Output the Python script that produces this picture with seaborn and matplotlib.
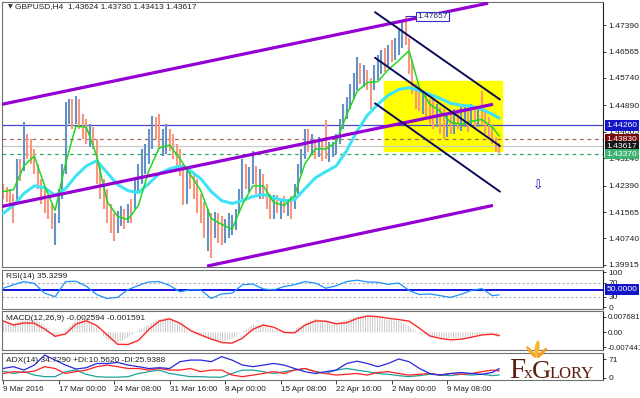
import numpy as np
import matplotlib
matplotlib.use("Agg")
import matplotlib.pyplot as plt
import matplotlib.transforms as mtransforms
from matplotlib.patches import Ellipse
import seaborn as sns

# GBPUSD H4 chart (one bar here = two H4 bars)
highs = [1.4245, 1.4235, 1.4229, 1.4214, 1.4322, 1.4322, 1.4436, 1.4399, 1.4383, 1.4353,
         1.4307, 1.4260, 1.4229, 1.4198, 1.4183, 1.4152, 1.4229, 1.4307, 1.4498, 1.4507,
         1.4507, 1.4517, 1.4507, 1.4461, 1.4445, 1.4430, 1.4421, 1.4383, 1.4307, 1.4260,
         1.4229, 1.4183, 1.4152, 1.4161, 1.4174, 1.4167, 1.4183, 1.4198, 1.4260, 1.4307,
         1.4353, 1.4368, 1.4414, 1.4455, 1.4452, 1.4461, 1.4414, 1.4430, 1.4414, 1.4399,
         1.4368, 1.4353, 1.4307, 1.4291, 1.4300, 1.4276, 1.4260, 1.4214, 1.4189, 1.4167,
         1.4152, 1.4158, 1.4152, 1.4143, 1.4136, 1.4152, 1.4146, 1.4167, 1.4229, 1.4322,
         1.4307, 1.4297, 1.4347, 1.4300, 1.4291, 1.4276, 1.4245, 1.4214, 1.4208, 1.4208,
         1.4198, 1.4205, 1.4198, 1.4205, 1.4245, 1.4307, 1.4353, 1.4414, 1.4414, 1.4399,
         1.4383, 1.4390, 1.4383, 1.4442, 1.4374, 1.4374, 1.4399, 1.4445, 1.4492, 1.4514,
         1.4554, 1.4591, 1.4640, 1.4622, 1.4615, 1.4600, 1.4575, 1.4615, 1.4646, 1.4662,
         1.4668, 1.4677, 1.4693, 1.4699, 1.4724, 1.4748, 1.47657, 1.4699, 1.4631, 1.4554,
         1.4544, 1.4538, 1.4523, 1.4507, 1.4514, 1.4492, 1.4483, 1.4476, 1.4461, 1.4470,
         1.4476, 1.4476, 1.4483, 1.4486, 1.4476, 1.4492, 1.4483, 1.4476, 1.4532, 1.4470,
         1.4452, 1.4430, 1.4390, 1.43730]
lows = [1.4198, 1.4189, 1.4183, 1.4121, 1.4183, 1.4254, 1.4285, 1.4322, 1.4307, 1.4276,
        1.4229, 1.4183, 1.4152, 1.4136, 1.4105, 1.4053, 1.4121, 1.4198, 1.4276, 1.4430,
        1.4414, 1.4430, 1.4414, 1.4383, 1.4368, 1.4359, 1.4353, 1.4245, 1.4198, 1.4167,
        1.4121, 1.4090, 1.4066, 1.4090, 1.4112, 1.4105, 1.4121, 1.4121, 1.4167, 1.4214,
        1.4245, 1.4276, 1.4307, 1.4353, 1.4383, 1.4353, 1.4331, 1.4337, 1.4347, 1.4322,
        1.4291, 1.4269, 1.4177, 1.4183, 1.4229, 1.4198, 1.4152, 1.4121, 1.4075, 1.4035,
        1.4013, 1.4075, 1.4059, 1.4053, 1.4059, 1.4075, 1.4084, 1.4099, 1.4152, 1.4198,
        1.4229, 1.4220, 1.4245, 1.4214, 1.4198, 1.4198, 1.4167, 1.4136, 1.4136, 1.4152,
        1.4136, 1.4152, 1.4143, 1.4136, 1.4167, 1.4214, 1.4276, 1.4322, 1.4344, 1.4337,
        1.4322, 1.4328, 1.4316, 1.4322, 1.4313, 1.4328, 1.4337, 1.4368, 1.4414, 1.4445,
        1.4476, 1.4507, 1.4538, 1.4554, 1.4547, 1.4538, 1.4476, 1.4538, 1.4569, 1.4585,
        1.4594, 1.4609, 1.4625, 1.4631, 1.4646, 1.4668, 1.4677, 1.4585, 1.4523, 1.4476,
        1.4470, 1.4461, 1.4452, 1.4430, 1.4414, 1.4421, 1.4399, 1.4383, 1.4390, 1.4399,
        1.4399, 1.4414, 1.4408, 1.4421, 1.4405, 1.4424, 1.4414, 1.4421, 1.4430, 1.4399,
        1.4383, 1.4368, 1.4344, 1.43413]
closes = [1.4214, 1.4205, 1.4198, 1.4183, 1.4307, 1.4285, 1.4399, 1.4347, 1.4328, 1.4297,
          1.4245, 1.4198, 1.4174, 1.4161, 1.4121, 1.4121, 1.4214, 1.4291, 1.4476, 1.4483,
          1.4445, 1.4492, 1.4430, 1.4414, 1.4383, 1.4414, 1.4368, 1.4260, 1.4229, 1.4198,
          1.4136, 1.4121, 1.4090, 1.4136, 1.4152, 1.4136, 1.4161, 1.4130, 1.4245, 1.4276,
          1.4322, 1.4353, 1.4383, 1.4430, 1.4399, 1.4368, 1.4383, 1.4399, 1.4368, 1.4353,
          1.4307, 1.4291, 1.4198, 1.4276, 1.4260, 1.4214, 1.4167, 1.4143, 1.4105, 1.4121,
          1.4105, 1.4130, 1.4090, 1.4075, 1.4105, 1.4121, 1.4136, 1.4152, 1.4214, 1.4297,
          1.4245, 1.4276, 1.4291, 1.4229, 1.4260, 1.4214, 1.4183, 1.4161, 1.4183, 1.4167,
          1.4189, 1.4161, 1.4183, 1.4152, 1.4229, 1.4291, 1.4337, 1.4399, 1.4368, 1.4383,
          1.4337, 1.4377, 1.4353, 1.4337, 1.4353, 1.4368, 1.4383, 1.4430, 1.4476, 1.4492,
          1.4538, 1.4569, 1.4600, 1.4569, 1.4600, 1.4554, 1.4538, 1.4600, 1.4615, 1.4646,
          1.4615, 1.4662, 1.4646, 1.4677, 1.4693, 1.4724, 1.4693, 1.4600, 1.4538, 1.4523,
          1.4492, 1.4507, 1.4470, 1.4461, 1.4445, 1.4476, 1.4421, 1.4414, 1.4445, 1.4414,
          1.4461, 1.4430, 1.4452, 1.4461, 1.4421, 1.4476, 1.4445, 1.4461, 1.4445, 1.4430,
          1.4399, 1.4383, 1.43624, 1.43617]
first_open = 1.4229

# indicators, read every 3rd bar plus the last one
step_idx = list(range(0, 144, 3)) + [143]
ma_fast = [1.4220, 1.4226, 1.4300, 1.4331, 1.4238, 1.4161, 1.4307, 1.4424, 1.4421, 1.4331,
           1.4189, 1.4143, 1.4133, 1.4177, 1.4285, 1.4356, 1.4365, 1.4322, 1.4273, 1.4223,
           1.4136, 1.4118, 1.4103, 1.4180, 1.4238, 1.4238, 1.4186, 1.4177, 1.4208, 1.4307,
           1.4353, 1.4353, 1.4374, 1.4458, 1.4532, 1.4560, 1.4563, 1.4600, 1.4628, 1.4659,
           1.4544, 1.4492, 1.4470, 1.4436, 1.4430, 1.4439, 1.4445, 1.4421, 1.4393]
ma_slow = [1.4152, 1.4177, 1.4214, 1.4238, 1.4232, 1.4208, 1.4229, 1.4269, 1.4300, 1.4316,
           1.4279, 1.4242, 1.4223, 1.4217, 1.4245, 1.4276, 1.4291, 1.4300, 1.4285, 1.4260,
           1.4220, 1.4192, 1.4183, 1.4192, 1.4205, 1.4211, 1.4201, 1.4192, 1.4195, 1.4229,
           1.4263, 1.4282, 1.4300, 1.4347, 1.4408, 1.4458, 1.4492, 1.4520, 1.4538, 1.4544,
           1.4535, 1.4523, 1.4510, 1.4495, 1.4489, 1.4486, 1.4476, 1.4461, 1.4449]
rsi = [54, 64, 73, 68, 40, 30, 73, 74, 60, 36, 25, 28, 50, 62, 72, 73, 62, 44, 50, 49,
       25, 38, 40, 64, 66, 52, 49, 59, 64, 73, 69, 54, 61, 73, 77, 72, 71, 65, 69, 48,
       36, 38, 33, 28, 37, 48, 53, 33, 35.33]
macd_main = [0.0060, 0.0044, 0.0058, 0.0066, 0.0034, -0.0027, 0.0008, 0.0062, 0.0060, 0.0020,
             -0.0037, -0.0050, -0.0025, 0.0010, 0.0038, 0.0066, 0.0075, 0.0042, -0.0003, -0.0020,
             -0.0039, -0.0047, -0.0033, 0.0004, 0.0036, 0.0035, 0.0015, -0.0004, 0.0012, 0.0045,
             0.0068, 0.0055, 0.0046, 0.0062, 0.0078, 0.0084, 0.0075, 0.0060, 0.0058, 0.0030,
             -0.0008, -0.0018, -0.0025, -0.0029, -0.0027, -0.0017, -0.0010, -0.0014, -0.002594]
macd_signal = [0.0056, 0.0036, 0.0046, 0.0045, 0.0016, -0.0020, -0.0008, 0.0040, 0.0057, 0.0033,
               -0.0013, -0.0059, -0.0060, -0.0040, 0.0014, 0.0055, 0.0066, 0.0045, 0.0009, -0.0013,
               -0.0033, -0.0050, -0.0053, -0.0029, 0.0015, 0.0036, 0.0025, 0.0000, -0.0003, 0.0035,
               0.0056, 0.0055, 0.0042, 0.0047, 0.0068, 0.0080, 0.0077, 0.0069, 0.0063, 0.0055,
               0.0020, -0.0018, -0.0030, -0.0037, -0.0034, -0.0024, -0.0013, -0.0009, -0.001591]
adx_main = [35, 42, 29, 48, 86, 67, 48, 33, 38, 54, 54, 58, 48, 42, 35, 38, 35, 61, 67, 67,
            61, 80, 67, 48, 42, 48, 54, 48, 35, 23, 16, 23, 29, 54, 63, 54, 42, 54, 71, 61,
            35, 16, 10, 16, 20, 16, 13, 20, 34.73]
adx_plus = [25, 16, 23, 10, 4, 4, 23, 29, 13, 4, 2, 2, 4, 16, 23, 29, 16, 10, 4, 4,
            2, 2, 16, 29, 29, 23, 16, 23, 29, 35, 23, 16, 29, 35, 29, 23, 16, 13, 8, 4,
            8, 13, 10, 8, 13, 10, 13, 8, 10.56]
adx_minus = [16, 23, 20, 25, 42, 35, 16, 23, 29, 42, 48, 42, 35, 35, 29, 35, 29, 29, 35, 23,
             29, 29, 10, 4, 10, 16, 23, 16, 29, 35, 23, 16, 10, 13, 16, 10, 20, 23, 16, 10,
             13, 16, 10, 16, 13, 16, 23, 29, 25.94]

date_labels = ["9 Mar 2016", "17 Mar 00:00", "24 Mar 08:00", "31 Mar 16:00", "8 Apr 00:00",
               "15 Apr 08:00", "22 Apr 16:00", "2 May 00:00", "9 May 08:00"]
date_every = 16
price_ticks = [1.47390, 1.46565, 1.45740, 1.44890, 1.44065, 1.43240, 1.42390, 1.41565,
               1.40740, 1.39915]

# chart objects (bar index, price)
upper_channel = ([-0.3, 139.8], [1.4492, 1.4807])
mid_channel = ([-0.3, 141.2], [1.4174, 1.4492])
low_channel = ([58.8, 141.2], [1.3988, 1.4177])
down_lines = [([107.2, 143.2], [1.4779, 1.4507]),
              ([107.2, 143.2], [1.4637, 1.4362]),
              ([107.2, 143.2], [1.4495, 1.4220])]
box_x = (109.8, 143.8)
box_y = (1.4347, 1.4566)
level_prices = [1.44260, 1.43830, 1.43617, 1.43370]
level_line_colors = ["#4646CC", "#A86458", "#C8C8C8", "#2BAA5E"]
level_styles = ["-", (0, (3, 3)), "-", (0, (3, 3))]
level_box_colors = ["#1414C8", "#7A0A0A", "#141414", "#3CB371"]
high_price = 1.47657
arrow_pos = (154.2, 1.4236)

sns.set_theme(style="white")
plt.rcParams["font.family"] = ["Liberation Sans", "DejaVu Sans"]
plt.rcParams["hatch.linewidth"] = 0.6

W, H = 640, 398
fig = plt.figure(figsize=(6.4, 3.98), dpi=100)
fig.patch.set_facecolor("white")


def panel(top, bottom):
    return fig.add_axes([2 / W, 1 - bottom / H, 601 / W, (bottom - top) / H])


ax = panel(2, 267)
ax_rsi = panel(270, 309)
ax_macd = panel(311, 350)
ax_adx = panel(352.5, 379.5)

xlim = (-0.3, 172.9)
lab_fs = 6.1
for a in (ax, ax_rsi, ax_macd, ax_adx):
    a.set_facecolor("white")
    a.set_xlim(*xlim)
    for s in a.spines.values():
        s.set_color("#707070")
        s.set_linewidth(0.8)
    a.spines["right"].set_color("#202020")
    a.yaxis.tick_right()
    a.tick_params(axis="y", right=True, left=False, length=2, width=0.6, pad=2,
                  labelsize=lab_fs, colors="#202020")
    a.tick_params(axis="x", bottom=False, labelbottom=False)
    a.set_xlabel("")
    a.set_ylabel("")

# ---- main price panel ----
ax.set_ylim(1.39852, 1.48107)
ax.axhspan(box_y[0], box_y[1], xmin=(box_x[0] - xlim[0]) / (xlim[1] - xlim[0]),
           xmax=(box_x[1] - xlim[0]) / (xlim[1] - xlim[0]), color="#FFFF00", zorder=0)

bar_idx = np.arange(len(closes))
opens = [first_open] + closes[:-1]
bar_colors = ["#6592C6" if c >= o else "#F7987E" for o, c in zip(opens, closes)]
ax.vlines(bar_idx, lows, highs, colors=bar_colors, linewidth=1.5, zorder=2)

for p, c, ls in zip(level_prices, level_line_colors, level_styles):
    ax.axhline(p, color=c, linestyle=ls, linewidth=0.9, zorder=1)

for xs, ys in (upper_channel, mid_channel, low_channel):
    ax.plot(xs, ys, color="#9400D3", linewidth=2.3, zorder=4, solid_capstyle="butt")
for xs, ys in down_lines:
    ax.plot(xs, ys, color="#0C0C5A", linewidth=1.4, zorder=4)

sns.lineplot(x=step_idx, y=ma_slow, ax=ax, color="#3FE3F5", linewidth=2.2,
             estimator=None, sort=False, legend=False, zorder=3)
sns.lineplot(x=step_idx, y=ma_fast, ax=ax, color="#1ED81E", linewidth=1.1,
             estimator=None, sort=False, legend=False, zorder=3)

ax.set_yticks(price_ticks)
ax.set_yticklabels([f"{p:.5f}" for p in price_ticks])

trans = mtransforms.blended_transform_factory(ax.transAxes, ax.transData)
for p, c in zip(level_prices, level_box_colors):
    ax.text(1.006, p, f"{p:.5f}", transform=trans, ha="left", va="center",
            fontsize=lab_fs, color="white", zorder=10, clip_on=False,
            bbox=dict(boxstyle="square,pad=0.2", fc=c, ec="none"))

hi_i = int(np.argmax(highs))
ax.plot([hi_i, hi_i + 3.2], [high_price, high_price], color="#3030C0", linewidth=0.8, zorder=5)
ax.text(hi_i + 3.4, high_price, f"{high_price:.5f}", ha="left", va="center", fontsize=6,
        color="#1A1A70", zorder=6,
        bbox=dict(boxstyle="square,pad=0.15", fc="white", ec="#3030C0", lw=0.8))
ax.text(arrow_pos[0], arrow_pos[1], "\u21e9", ha="center", va="center", fontsize=9,
        color="#1C1CA0", family=["DejaVu Sans"])

# ---- RSI ----
ax_rsi.set_ylim(-5, 106)
ax_rsi.axhline(70, color="#B4B4B4", linestyle=(0, (2, 2)), linewidth=0.8)
ax_rsi.axhline(30, color="#B4B4B4", linestyle=(0, (2, 2)), linewidth=0.8)
ax_rsi.axhline(50, color="#0000DD", linewidth=1.3)
sns.lineplot(x=step_idx, y=rsi, ax=ax_rsi, color="#1E90FF", linewidth=0.9,
             estimator=None, sort=False, legend=False)
ax_rsi.set_yticks([100, 70, 30, 0])
ax_rsi.set_yticklabels(["100", "70", "30", "0"])
trans_r = mtransforms.blended_transform_factory(ax_rsi.transAxes, ax_rsi.transData)
ax_rsi.text(1.006, 50, "50.0000", transform=trans_r, ha="left", va="center",
            fontsize=lab_fs, color="white", clip_on=False,
            bbox=dict(boxstyle="square,pad=0.2", fc="#1414C8", ec="none"))

# ---- MACD ----
ax_macd.set_ylim(-0.00871, 0.01049)
ax_macd.fill_between(step_idx, 0, macd_main, facecolor="white", edgecolor="#C0C0C0",
                     hatch="|||||||", linewidth=0)
sns.lineplot(x=step_idx, y=macd_signal, ax=ax_macd, color="#FF2828", linewidth=1.0,
             estimator=None, sort=False, legend=False)
ax_macd.set_yticks([0.007681, 0.0, -0.007441])
ax_macd.set_yticklabels(["0.007681", "0.00", "-0.007441"])
ax_macd.tick_params(axis="y", labelsize=5.7, pad=1.5)

# ---- ADX ----
ax_adx.set_ylim(-6.8, 95.8)
sns.lineplot(x=step_idx, y=adx_plus, ax=ax_adx, color="#1FA39A", linewidth=0.9,
             estimator=None, sort=False, legend=False)
sns.lineplot(x=step_idx, y=adx_minus, ax=ax_adx, color="#FF2020", linewidth=0.9,
             estimator=None, sort=False, legend=False)
sns.lineplot(x=step_idx, y=adx_main, ax=ax_adx, color="#2828E0", linewidth=0.9,
             estimator=None, sort=False, legend=False)
ax_adx.set_yticks([71, 0])
ax_adx.set_yticklabels(["71", "0"])

date_pos = [k * date_every for k in range(len(date_labels))]
ax_adx.set_xticks(date_pos)
ax_adx.set_xticklabels(date_labels)
ax_adx.tick_params(axis="x", bottom=True, labelbottom=True, length=3, width=0.6,
                   pad=2, labelsize=5.8, colors="#202020", direction="out")
for lbl in ax_adx.get_xticklabels():
    lbl.set_ha("left")

# ---- header texts ----
fig.text(8 / W, 1 - 7 / H, "\u25bc", fontsize=4.5, color="#303030", va="center",
         family=["DejaVu Sans"])
fig.text(15 / W, 1 - 7 / H, "GBPUSD,H4  1.43624 1.43730 1.43413 1.43617",
         fontsize=6, color="#202020", va="center")
fig.text(6 / W, 1 - 277 / H, "RSI(14) 35.3299", fontsize=6, color="#202020", va="center")
fig.text(6 / W, 1 - 318 / H, "MACD(12,26,9) -0.002594 -0.001591", fontsize=6,
         color="#202020", va="center")
fig.text(6 / W, 1 - 360 / H, "ADX(14) 34.7290 +DI:10.5620 -DI:25.9388", fontsize=6,
         color="#202020", va="center")

# logo: small flame and the FxGlory word mark
for cx, cy, w, h, ang, col in [(531, 352, 4, 13, 25, "#F5A623"),
                               (537, 349, 5, 17, -5, "#F7B733"),
                               (542, 353, 4, 12, -30, "#F39C1E")]:
    fig.patches.append(Ellipse((cx / W, 1 - cy / H), w / W, h / H, angle=ang,
                               facecolor=col, edgecolor="none",
                               transform=fig.transFigure, figure=fig))
logo_color = "#5E1C10"
fig.text(509 / W, 1 - 378 / H, "F", family="Liberation Serif", fontsize=21,
         color=logo_color, va="baseline")
fig.text(524 / W, 1 - 378 / H, "x", family="Liberation Serif", fontsize=12.5,
         color=logo_color, va="baseline")
fig.text(532 / W, 1 - 378 / H, "G", family="Liberation Serif", fontsize=19,
         color=logo_color, va="baseline")
fig.text(550 / W, 1 - 378 / H, "LORY", family="Liberation Serif", fontsize=12,
         color=logo_color, va="baseline")

fig.savefig("out.png", dpi=100, facecolor="white")
